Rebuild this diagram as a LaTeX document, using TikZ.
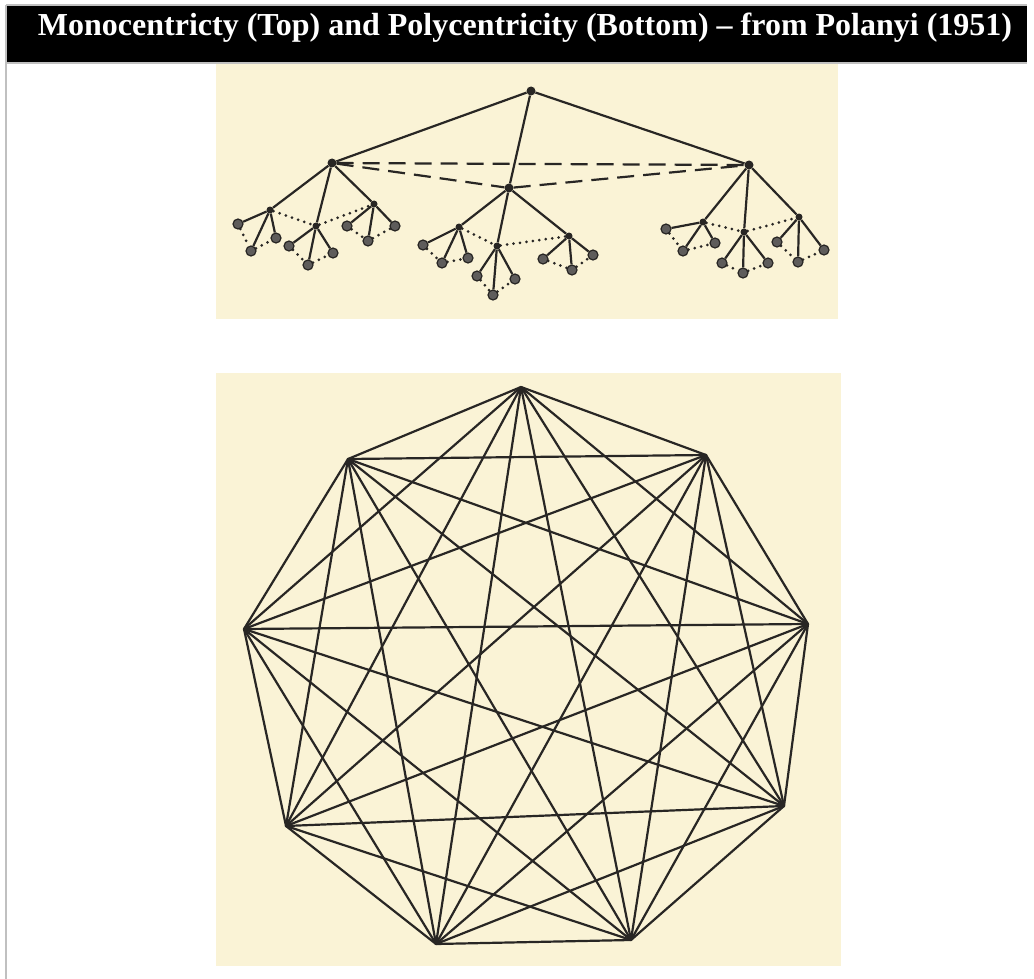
\documentclass[tikz,border=0pt]{standalone}
\usepackage{fontspec}
\setmainfont{Liberation Serif}
\definecolor{ink}{RGB}{40,38,36}
\definecolor{paper}{RGB}{250,243,214}
\definecolor{framegray}{RGB}{192,192,192}
\tikzset{
  solidline/.style={line width=2.2pt, draw=ink},
  dashline/.style={line width=2.2pt, draw=ink, dash pattern=on 17pt off 9pt},
  dotline/.style={line width=3pt, draw=ink, dash pattern=on 0pt off 6.5pt, line cap=round},
  leafnode/.style={circle, fill=ink!75, draw=ink, line width=1.2pt, inner sep=0pt, minimum size=10pt},
  midnode/.style={circle, fill=ink, inner sep=0pt, minimum size=7pt},
  topnode/.style={circle, fill=ink, inner sep=0pt, minimum size=9pt},
  vtx/.style={inner sep=0pt, minimum size=0pt}
}
\begin{document}
\begin{tikzpicture}[x=1pt,y=-1pt]
\useasboundingbox (0,0) rectangle (1034,979);
\fill[white] (0,0) rectangle (1034,979);
% frame and title bar
\fill[black] (7,6) rectangle (1027,62);
\draw[framegray, line width=2pt] (6,5) -- (1027,5);
\draw[framegray, line width=2pt] (6,63) -- (1027,63);
\draw[framegray, line width=2pt] (6,5) -- (6,979);
\node[text=white, font=\fontsize{32}{36}\selectfont\bfseries, anchor=base, inner sep=0pt] (title) at (525,36)
  {Monocentricty (Top) and Polycentricity (Bottom) -- from Polanyi (1951)};
% paper backgrounds
\fill[paper] (216,64) rectangle (838,319);
\fill[paper] (216,373) rectangle (841,966);

% ---------- top: monocentric tree ----------
\node[topnode] (r) at (531,91) {};
\node[topnode] (L) at (332,163) {};
\node[topnode] (M) at (509,188) {};
\node[topnode] (R) at (749,165) {};
% level 3
\node[midnode] (La) at (270,210) {};
\node[midnode] (Lb) at (316,226) {};
\node[midnode] (Lc) at (374,204) {};
\node[midnode] (Ma) at (459,227) {};
\node[midnode] (Mb) at (497,246) {};
\node[midnode] (Mc) at (569,236) {};
\node[midnode] (Ra) at (703,222) {};
\node[midnode] (Rb) at (744,232) {};
\node[midnode] (Rc) at (799,217) {};
% leaves
\node[leafnode] (La1) at (238,224) {};
\node[leafnode] (La2) at (251,251) {};
\node[leafnode] (La3) at (276,238) {};
\node[leafnode] (Lb1) at (289,246) {};
\node[leafnode] (Lb2) at (308,265) {};
\node[leafnode] (Lb3) at (333,253) {};
\node[leafnode] (Lc1) at (347,226) {};
\node[leafnode] (Lc2) at (368,241) {};
\node[leafnode] (Lc3) at (395,226) {};
\node[leafnode] (Ma1) at (423,245) {};
\node[leafnode] (Ma2) at (442,263) {};
\node[leafnode] (Ma3) at (468,258) {};
\node[leafnode] (Mb1) at (477,276) {};
\node[leafnode] (Mb2) at (493,295) {};
\node[leafnode] (Mb3) at (515,279) {};
\node[leafnode] (Mc1) at (543,259) {};
\node[leafnode] (Mc2) at (572,270) {};
\node[leafnode] (Mc3) at (593,255) {};
\node[leafnode] (Ra1) at (666,229) {};
\node[leafnode] (Ra2) at (683,251) {};
\node[leafnode] (Ra3) at (715,243) {};
\node[leafnode] (Rb1) at (722,263) {};
\node[leafnode] (Rb2) at (743,273) {};
\node[leafnode] (Rb3) at (768,263) {};
\node[leafnode] (Rc1) at (777,242) {};
\node[leafnode] (Rc2) at (798,262) {};
\node[leafnode] (Rc3) at (824,250) {};
% dotted links among siblings
\foreach \p in {L,M,R} {
  \draw[dotline] (\p a) -- (\p b) -- (\p c) -- cycle;
  \foreach \s in {a,b,c}
    \draw[dotline] (\p\s1) -- (\p\s2) -- (\p\s3) -- cycle;
}
% solid tree edges
\foreach \c in {L,M,R} \draw[solidline] (r) -- (\c);
\foreach \p in {L,M,R} {
  \foreach \s in {a,b,c} {
    \draw[solidline] (\p) -- (\p\s);
    \foreach \k in {1,2,3} \draw[solidline] (\p\s) -- (\p\s\k);
  }
}
% dashed links between level-2 nodes
\draw[dashline] (L) -- (R);
\draw[dashline] (L) -- (M);
\draw[dashline] (M) -- (R);

% ---------- bottom: polycentric complete graph ----------
\node[vtx] (v1) at (521,387) {};
\node[vtx] (v2) at (706,455) {};
\node[vtx] (v3) at (808,624) {};
\node[vtx] (v4) at (784,806) {};
\node[vtx] (v5) at (631,940) {};
\node[vtx] (v6) at (436,944) {};
\node[vtx] (v7) at (286,826) {};
\node[vtx] (v8) at (244,629) {};
\node[vtx] (v9) at (348,459) {};
\foreach \i in {1,...,8} {
  \pgfmathtruncatemacro\nxt{\i+1}
  \foreach \j in {\nxt,...,9}
    \draw[solidline, line cap=round, line join=round] (v\i.center) -- (v\j.center);
}
\end{tikzpicture}
\end{document}
